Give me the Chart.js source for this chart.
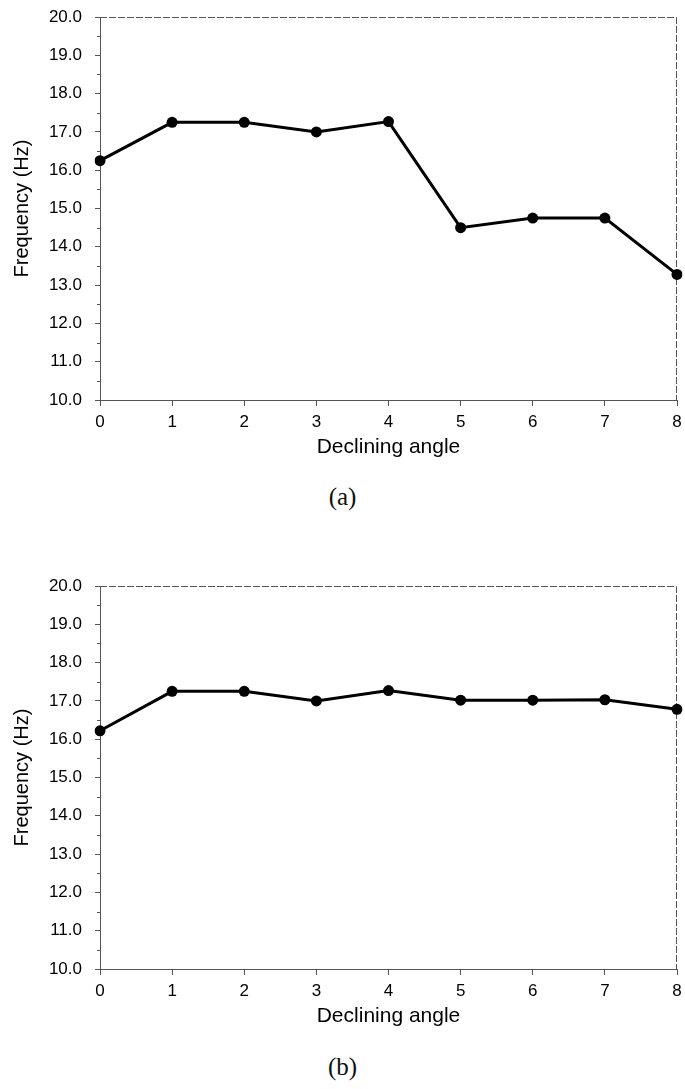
<!DOCTYPE html>
<html>
<head>
<meta charset="utf-8">
<script src="https://cdn.jsdelivr.net/npm/chart.js@4/dist/chart.umd.min.js"></script>
<style>
  html, body { margin: 0; padding: 0; background: #fff; }
  body { width: 685px; height: 1089px; position: relative; overflow: hidden; }
  .panel { position: absolute; left: 0; width: 685px; height: 470px; }
  .caption { position: absolute; left: 0; width: 685px; text-align: center;
             font-family: "Liberation Serif", "DejaVu Serif", serif; font-size: 25px; color: #111; }
</style>
</head>
<body>
<div class="panel" style="top:0"><canvas id="chartA" width="685" height="470"></canvas></div>
<div class="caption" style="top:483px">(a)</div>
<div class="panel" style="top:569px"><canvas id="chartB" width="685" height="470"></canvas></div>
<div class="caption" style="top:1053px">(b)</div>

<script>
// Declining angle categories along the horizontal axis
const angles = ['0', '1', '2', '3', '4', '5', '6', '7', '8'];

// Natural frequency (Hz) for each declining angle
const freqA = [16.25, 17.25, 17.25, 17.0, 17.27, 14.5, 14.75, 14.75, 13.28];
const freqB = [16.22, 17.25, 17.25, 17.0, 17.27, 17.02, 17.02, 17.03, 16.78];

// Frequency axis tick values
const freqTicks = [10, 11, 12, 13, 14, 15, 16, 17, 18, 19, 20];

const FONT = '"Liberation Sans", Arial, sans-serif';

// Dashed frame on the top/right edges plus half-unit minor ticks on the y axis
const framePlugin = {
  id: 'frame',
  beforeDatasetsDraw(chart) {
    const { ctx, chartArea: a, scales: { y } } = chart;
    ctx.save();
    ctx.strokeStyle = '#555';
    ctx.lineWidth = 1;
    ctx.setLineDash([7, 2]);
    ctx.beginPath();
    ctx.moveTo(a.left, a.top + 0.5);
    ctx.lineTo(a.right - 0.5, a.top + 0.5);
    ctx.lineTo(a.right - 0.5, a.bottom);
    ctx.stroke();
    ctx.setLineDash([]);
    ctx.beginPath();
    for (let i = 0; i < freqTicks.length - 1; i++) {
      const v = (freqTicks[i] + freqTicks[i + 1]) / 2;
      const py = Math.round(y.getPixelForValue(v)) + 0.5;
      ctx.moveTo(a.left - 3, py);
      ctx.lineTo(a.left, py);
    }
    ctx.stroke();
    ctx.restore();
  }
};

function makeChart(id, values) {
  return new Chart(document.getElementById(id), {
    type: 'line',
    data: {
      labels: angles,
      datasets: [{
        data: values,
        borderColor: '#000',
        backgroundColor: '#000',
        borderWidth: 3,
        pointRadius: 5.5,
        pointBorderWidth: 0,
        pointBackgroundColor: '#000',
        tension: 0,
        fill: false
      }]
    },
    options: {
      responsive: false,
      animation: false,
      events: [],
      layout: { padding: { left: 0, top: 17, right: 8, bottom: 10 } },
      plugins: { legend: { display: false }, tooltip: { enabled: false } },
      scales: {
        x: {
          offset: false,
          grid: { drawOnChartArea: false, drawTicks: true, tickLength: 6, color: '#555' },
          border: { display: true, color: '#555', width: 1, dash: [7, 2] },
          ticks: { color: '#000', font: { family: FONT, size: 17 }, padding: 6, maxRotation: 0 },
          title: { display: true, text: 'Declining angle', color: '#000',
                   font: { family: FONT, size: 21 }, padding: { top: 0, bottom: 0 } },
          afterFit(s) { s.height = 60; s.paddingLeft = 0; s.paddingRight = 0; }
        },
        y: {
          min: 10, max: 20,
          afterBuildTicks(s) { s.ticks = freqTicks.map(v => ({ value: v })); },
          grid: { drawOnChartArea: false, drawTicks: true, tickLength: 5, color: '#555' },
          border: { display: true, color: '#555', width: 1, dash: [7, 2] },
          ticks: { color: '#000', font: { family: FONT, size: 17 }, padding: 13,
                   callback: v => Number(v).toFixed(1) },
          title: { display: true, text: 'Frequency (Hz)', color: '#000',
                   font: { family: FONT, size: 20 }, padding: { top: 10, bottom: 0 } },
          afterFit(s) { s.width = 100; s.paddingTop = 0; s.paddingBottom = 0; }
        }
      }
    },
    plugins: [framePlugin]
  });
}

makeChart('chartA', freqA);
makeChart('chartB', freqB);
</script>
</body>
</html>
